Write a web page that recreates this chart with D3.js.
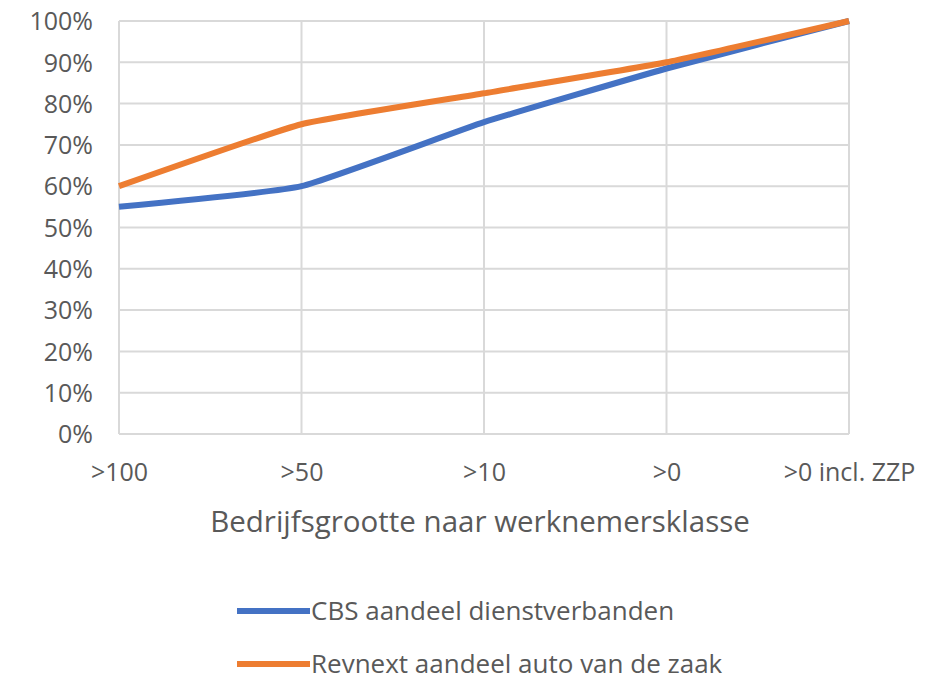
<!DOCTYPE html>
<html><head><meta charset="utf-8">
<script src="https://cdn.jsdelivr.net/npm/d3@7"></script>
<style>body{margin:0;background:#fff}svg{display:block}text{font-family:"Open Sans",sans-serif;fill:#595959}</style>
</head><body><svg id="c" width="935" height="681"></svg>
<script>
const categories = [">100", ">50", ">10", ">0", ">0 incl. ZZP"];
const cbsValues = [0.55, 0.60, 0.755, 0.885, 1.00];
const revnextValues = [0.60, 0.75, 0.825, 0.90, 1.00];
const yTicks = [0,0.1,0.2,0.3,0.4,0.5,0.6,0.7,0.8,0.9,1.0];
const seriesNames = ["CBS aandeel dienstverbanden", "Revnext aandeel auto van de zaak"];
const colors = ["#4472C4", "#ED7D31"];
const xTitle = "Bedrijfsgrootte naar werknemersklasse";

const svg = d3.select("#c");
const L=119, R=849, T=21, B=434;
const x = d3.scalePoint().domain(categories).range([L,R]);
const y = d3.scaleLinear().domain([0,1]).range([B,T]);

svg.append("g").selectAll("line").data(yTicks).join("line")
  .attr("x1",L).attr("x2",R).attr("y1",d=>y(d)).attr("y2",d=>y(d))
  .attr("stroke","#d9d9d9").attr("stroke-width",2);
svg.append("g").selectAll("line").data(categories).join("line")
  .attr("x1",d=>x(d)).attr("x2",d=>x(d)).attr("y1",T).attr("y2",B)
  .attr("stroke","#d9d9d9").attr("stroke-width",2);

const yAxis = d3.axisLeft(y).tickValues(yTicks).tickFormat(d3.format(".0%")).tickSize(0).tickPadding(0);
const ga = svg.append("g").attr("transform",`translate(${L-26},0)`).call(yAxis);
ga.select(".domain").remove();
ga.selectAll("text").attr("font-size",25).attr("font-family","Open Sans").attr("fill","#5f5f5f").attr("dy","0.35em");

const xAxis = d3.axisBottom(x).tickSize(0).tickPadding(0);
const gx = svg.append("g").attr("transform",`translate(0,${B+29})`).call(xAxis);
gx.select(".domain").remove();
gx.selectAll("text").attr("font-size",25).attr("font-family","Open Sans").attr("fill","#5f5f5f").attr("dy","0.7em");

svg.append("text").attr("x",480).attr("y",532).attr("text-anchor","middle")
  .attr("font-size",29.5).text(xTitle);

const line = d3.line().x((d,i)=>x(categories[i])).y(d=>y(d)).curve(d3.curveCardinal.tension(0.6));
[cbsValues, revnextValues].forEach((vals,i)=>{
  svg.append("path").attr("d",line(vals)).attr("fill","none")
    .attr("stroke",colors[i]).attr("stroke-width",6).attr("stroke-linejoin","round");
});

const lg = svg.append("g");
seriesNames.forEach((n,i)=>{
  const yy = 611 + i*53;
  lg.append("line").attr("x1",237).attr("x2",310).attr("y1",yy).attr("y2",yy)
    .attr("stroke",colors[i]).attr("stroke-width",6);
  lg.append("text").attr("x",311).attr("y",yy).attr("dy","0.35em").attr("font-size",26).text(n);
});
</script></body></html>
